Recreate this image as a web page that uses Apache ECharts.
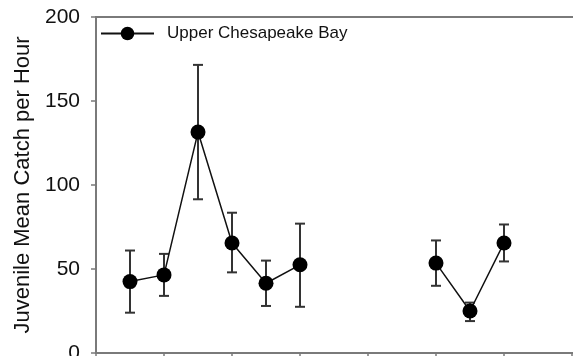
<!DOCTYPE html>
<html>
<head>
<meta charset="utf-8">
<script src="https://cdn.jsdelivr.net/npm/echarts@6/dist/echarts.min.js"></script>
<style>
  html, body { margin: 0; padding: 0; background: #fff; }
  #chart { width: 573px; height: 356px; }
</style>
</head>
<body>
<div id="chart"></div>
<script>
// Sampling years (index along the survey period); years 7 to 9 have no data
const years = [1, 2, 3, 4, 5, 6, 10, 11, 12];
const meanCatch = [42.5, 46.5, 131.5, 65.5, 41.5, 52.5, 53.5, 25, 65.5];
const lowerBound = [24, 34, 91.5, 48, 28, 27.5, 40, 19, 54.5];
const upperBound = [61, 59, 171.5, 83.5, 55, 77, 67, 30, 76.5];
const yTicks = [0, 50, 100, 150, 200];
const seriesName = 'Upper Chesapeake Bay';

// Line points, with a break where the survey skipped years
const linePoints = [];
for (let i = 0; i < years.length; i++) {
  if (i > 0 && years[i] - years[i - 1] > 1) linePoints.push([years[i] - 1, '-']);
  linePoints.push([years[i], meanCatch[i]]);
}
const errorRows = years.map((x, i) => [x, lowerBound[i], upperBound[i]]);

const font = 'Liberation Sans, Arial, sans-serif';
const axisGray = '#7a7a7a';

const chart = echarts.init(document.getElementById('chart'), null, { renderer: 'canvas' });
chart.setOption({
  animation: false,
  backgroundColor: '#fff',
  grid: {
    left: 96, top: 17, bottom: 3, width: 510,
    outerBoundsMode: 'none',
    containLabel: false,
    show: true, borderColor: axisGray, borderWidth: 2, backgroundColor: 'transparent'
  },
  legend: {
    left: 95, top: 20,
    itemWidth: 53, itemHeight: 17, itemGap: 10,
    textStyle: { fontFamily: font, fontSize: 17, color: '#111', padding: [0, 0, 0, 8] },
    data: [seriesName]
  },
  xAxis: {
    type: 'value', min: 0, max: 15, interval: 2,
    axisLine: { lineStyle: { color: axisGray, width: 2 } },
    axisTick: { show: true, length: 5, lineStyle: { color: axisGray, width: 1.5 } },
    axisLabel: { show: false },
    splitLine: { show: false }
  },
  yAxis: {
    type: 'value', min: yTicks[0], max: yTicks[yTicks.length - 1], interval: 50,
    name: 'Juvenile Mean Catch per Hour',
    nameLocation: 'middle', nameGap: 62,
    nameTextStyle: { fontFamily: font, fontSize: 22, color: '#111' },
    axisLine: { show: true, lineStyle: { color: axisGray, width: 2 } },
    axisTick: { show: true, length: 5, lineStyle: { color: axisGray, width: 1.5 } },
    axisLabel: { fontFamily: font, fontSize: 21, color: '#111', margin: 16 },
    splitLine: { show: false }
  },
  series: [
    {
      type: 'custom',
      name: 'error',
      z: 1,
      silent: true,
      data: errorRows,
      renderItem: function (params, api) {
        const x = api.value(0);
        const lo = api.coord([x, api.value(1)]);
        const hi = api.coord([x, api.value(2)]);
        const half = 5;
        const style = { stroke: '#333', lineWidth: 2 };
        return {
          type: 'group',
          children: [
            { type: 'line', shape: { x1: lo[0], y1: lo[1], x2: hi[0], y2: hi[1] }, style: style },
            { type: 'line', shape: { x1: hi[0] - half, y1: hi[1], x2: hi[0] + half, y2: hi[1] }, style: style },
            { type: 'line', shape: { x1: lo[0] - half, y1: lo[1], x2: lo[0] + half, y2: lo[1] }, style: style }
          ]
        };
      }
    },
    {
      type: 'line',
      name: seriesName,
      z: 3,
      data: linePoints,
      connectNulls: false,
      symbol: 'circle',
      symbolSize: 15,
      itemStyle: { color: '#000' },
      lineStyle: { color: '#111', width: 1.5 }
    }
  ]
});
</script>
</body>
</html>
